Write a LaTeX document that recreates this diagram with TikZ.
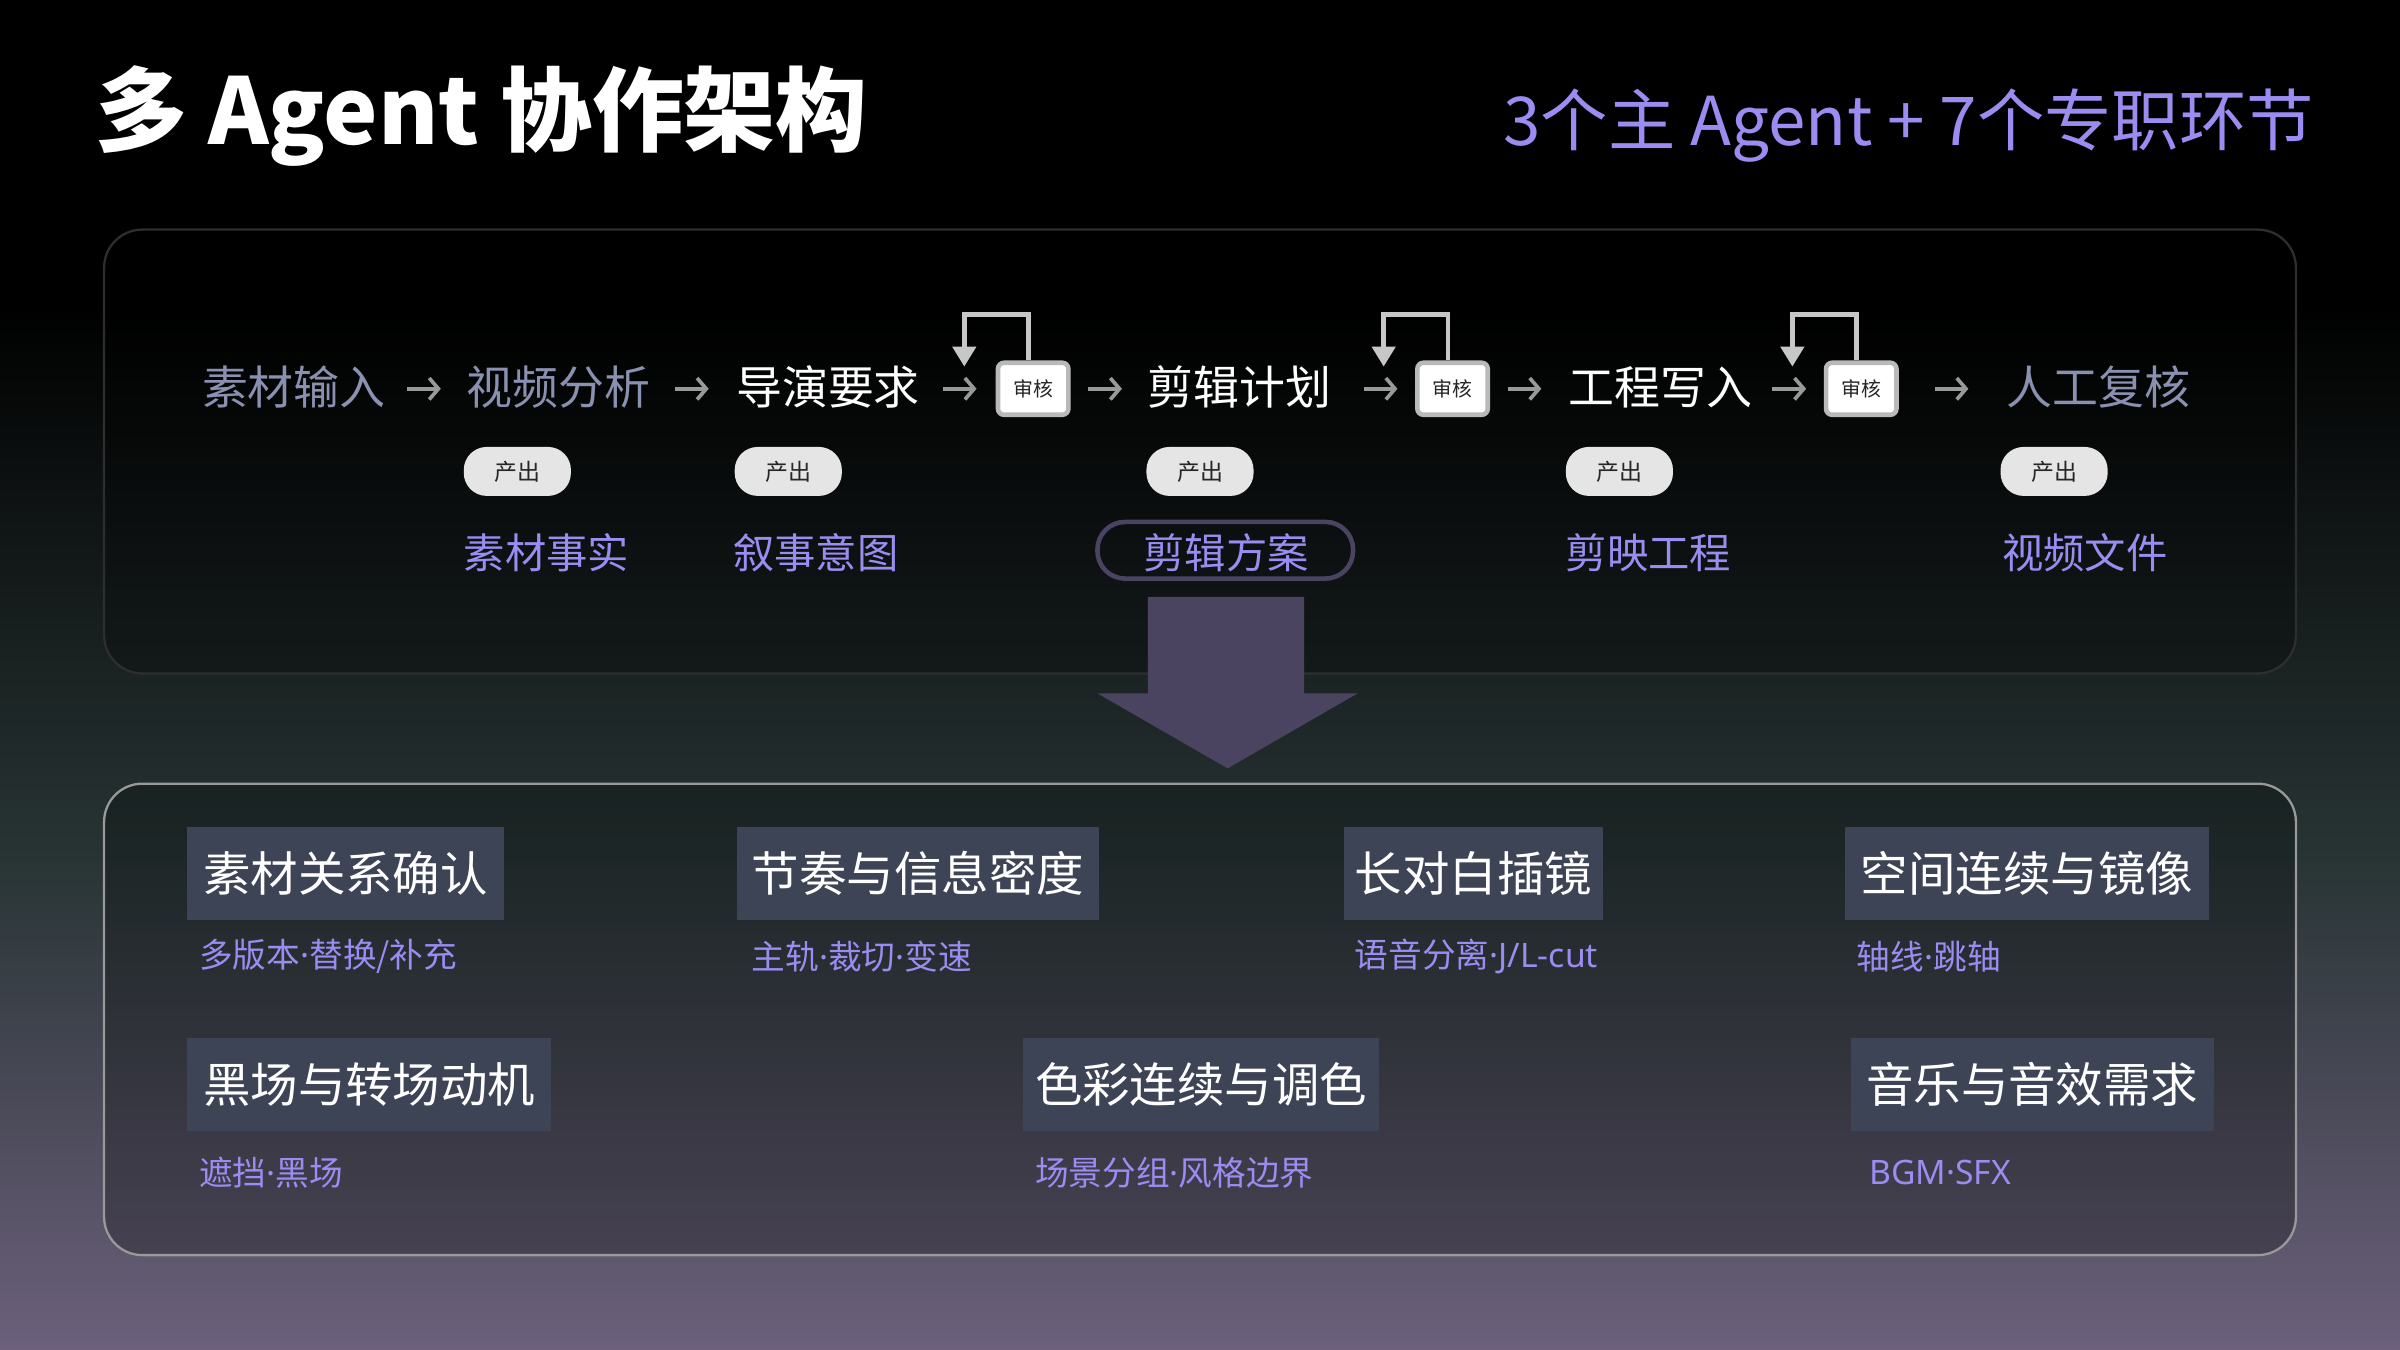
\documentclass[tikz,border=0pt]{standalone}
\usepackage{fontspec}
\setmainfont{Noto Sans CJK SC}
\newfontfamily\lat{Noto Sans}
\usetikzlibrary{arrows.meta}
\definecolor{pur}{HTML}{9A8CF0}
\definecolor{gb}{HTML}{8A90B0}
\definecolor{boxf}{HTML}{3D4455}
\definecolor{arr}{HTML}{4A4460}
\newcommand{\fs}[1]{\fontsize{#1}{#1}\selectfont}
\newcommand{\dt}{{\lat ·}}
\begin{document}
\begin{tikzpicture}[x=1pt,y=-1pt,
  flow/.style={font=\fs{30}, inner sep=0pt, anchor=center},
  ar/.style={draw=gray!80, line width=2.4pt, -{Straight Barb[length=6pt,width=14pt,line width=2.4pt]}},
  rev/.style={draw=gray!55, line width=3pt, fill=white, rounded corners=4pt, minimum width=46pt, minimum height=34pt, font=\fs{13}, text=black!85, inner sep=0pt},
  pill/.style={fill=black!10, rounded corners=15pt, minimum width=70pt, minimum height=32pt, font=\fs{15}, text=black!85, inner sep=0pt},
  outp/.style={font=\fs{27}, text=pur, inner sep=0pt},
  loop/.style={draw=black!22, line width=3pt, -{Triangle[length=13pt,width=15pt]}},
  task/.style={fill=boxf, font=\fs{31}, text=white, anchor=north west, minimum height=61pt, inner xsep=8pt, inner ysep=0pt},
  sub/.style={font=\fs{22}, text=pur, anchor=west, inner sep=0pt}]
\useasboundingbox (0,0) rectangle (1568,882);
\fill[black] (0,0) rectangle (1568,200);
\shade[top color=black, bottom color={rgb,255:red,40;green,52;blue,52}] (0,199) rectangle (1568,560);
\shade[top color={rgb,255:red,40;green,52;blue,52}, bottom color={rgb,255:red,108;green,96;blue,124}] (0,559) rectangle (1568,882);
% title
\node[anchor=west, font=\fs{60}\bfseries, text=white, inner sep=0pt] (title) at (62,76) {多 Agent 协作架构};
\node[anchor=east, font=\fs{44}, text=pur, inner sep=0pt] (subt) at (1512,82) {3个主 Agent + 7个专职环节};
% panels
\draw[draw=white!18!black, line width=1.5pt, rounded corners=25pt, fill=black, fill opacity=0.25] (68,150) rectangle (1500,440);
\draw[draw=white!60!black, line width=1.5pt, rounded corners=25pt, fill=black, fill opacity=0.25] (68,512) rectangle (1500,820);
% flow
\node[flow, text=gb] (a1) at (192,253) {素材输入};
\node[flow, text=gb] (a2) at (365,253) {视频分析};
\node[flow, text=white] (a3) at (541,253) {导演要求};
\node[rev] (v1) at (675,254) {审核};
\node[flow, text=white] (a4) at (810,253) {剪辑计划};
\node[rev] (v2) at (949,254) {审核};
\node[flow, text=white] (a5) at (1085,253) {工程写入};
\node[rev] (v3) at (1216,254) {审核};
\node[flow, text=gb] (a6) at (1371,253) {人工复核};
\foreach \i/\x in {1/277,2/452,3/627,4/722,5/902,6/996,7/1169,8/1275}{
  \coordinate (r\i a) at (\x-11,254);
  \coordinate (r\i b) at (\x+11,254);
  \draw[ar] (r\i a) -- (r\i b);
}
\foreach \v in {v1,v2,v3}{
  \coordinate (\v s) at ([xshift=-3pt]\v.north);
  \coordinate (\v e) at ([xshift=-45pt,yshift=-4pt]\v.north);
  \draw[loop] (\v s) -- ++(0,-30) -| (\v e);
}
% outputs
\foreach \i/\x/\t/\y in {1/338/素材事实/357, 2/515/叙事意图/533, 3/784/剪辑方案/801, 4/1058/剪映工程/1077, 5/1342/视频文件/1362}{
  \node[pill] (p\i) at (\x,308) {产出};
  \node[outp] (o\i) at (\y,361) {\t};
}
\draw[draw=arr, line width=3pt, rounded corners=18pt] (717,341) rectangle (884,378);
% big arrow
\fill[arr] (750,390) -- (852,390) -- (852,453) -- (887,453) -- (802,502) -- (717,453) -- (750,453) -- cycle;
% tasks
\node[task, minimum width=207pt] (t1) at (122,540) {素材关系确认};
\node[sub] (s1) at (130,625) {多版本\dt 替换/补充};
\node[task, minimum width=237pt] (t2) at (481,540) {节奏与信息密度};
\node[sub] (s2) at (491,625) {主轨\dt 裁切\dt 变速};
\node[task, minimum width=169pt, inner xsep=5pt] (t3) at (878,540) {长对白插镜};
\node[sub] (s3) at (885,625) {语音分离\dt{\lat J/L-cut}};
\node[task, minimum width=238pt] (t4) at (1205,540) {空间连续与镜像};
\node[sub] (s4) at (1213,625) {轴线\dt 跳轴};
\node[task, minimum width=238pt] (t5) at (122,678) {黑场与转场动机};
\node[sub] (s5) at (130,766) {遮挡\dt 黑场};
\node[task, minimum width=232pt] (t6) at (668,678) {色彩连续与调色};
\node[sub] (s6) at (676,766) {场景分组\dt 风格边界};
\node[task, minimum width=237pt] (t7) at (1209,678) {音乐与音效需求};
\node[sub] (s7) at (1221,766) {{\lat BGM·SFX}};
\end{tikzpicture}
\end{document}
